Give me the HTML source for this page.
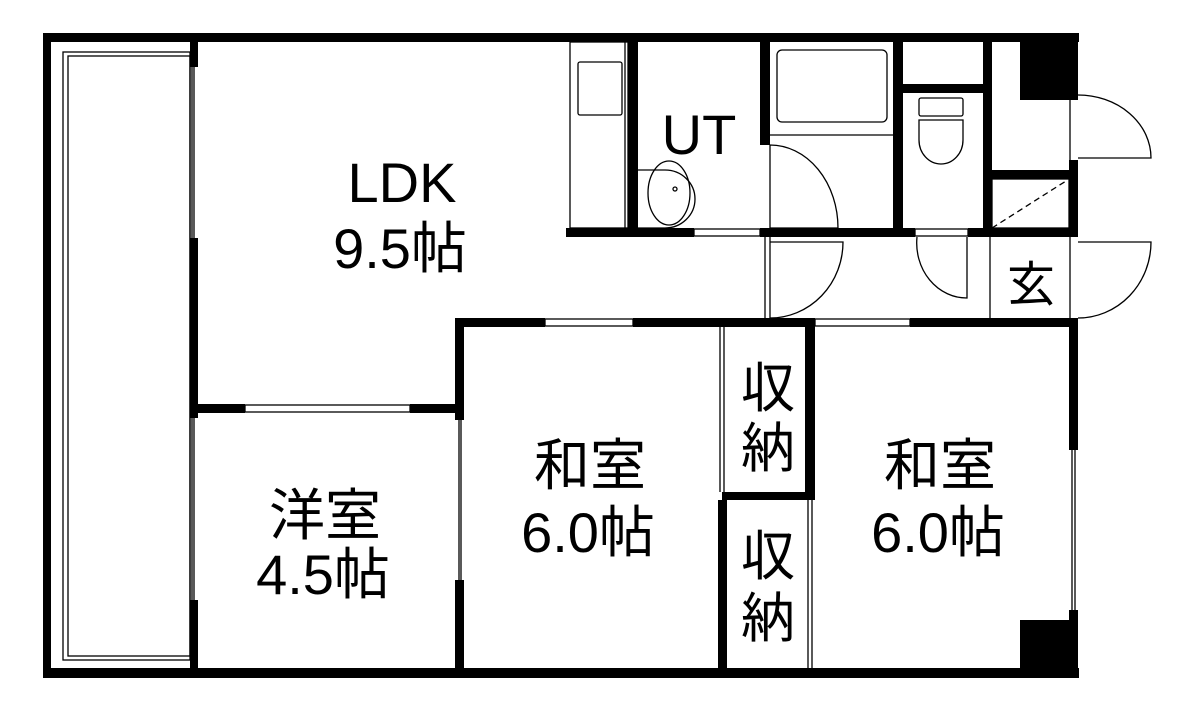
<!DOCTYPE html>
<html><head><meta charset="utf-8"><style>
html,body{margin:0;padding:0;background:#fff;width:1177px;height:711px;overflow:hidden}
text{font-family:"Liberation Sans","Noto Sans CJK JP",sans-serif;fill:#000}
</style></head><body>
<svg width="1177" height="711" viewBox="0 0 1177 711" xmlns="http://www.w3.org/2000/svg">
<g fill="#000">
<rect x="43" y="33" width="1036" height="9"/>
<rect x="43" y="668" width="1036" height="10"/>
<rect x="43" y="33" width="8" height="645"/>
<rect x="1069" y="33" width="9" height="57"/>
<rect x="1069" y="160" width="9" height="77"/>
<rect x="1069" y="318" width="9" height="132"/>
<rect x="1069" y="610" width="9" height="68"/>
<rect x="1020" y="42" width="58" height="58"/>
<rect x="1020" y="620" width="58" height="58"/>
<rect x="190" y="42" width="8" height="25"/>
<rect x="190" y="238" width="8" height="180"/>
<rect x="190" y="600" width="8" height="78"/>
<rect x="190" y="404" width="55" height="9"/>
<rect x="410" y="404" width="54" height="9"/>
<rect x="455" y="318" width="9" height="102"/>
<rect x="455" y="580" width="9" height="98"/>
<rect x="455" y="318" width="90" height="9"/>
<rect x="633" y="318" width="182" height="9"/>
<rect x="910" y="318" width="168" height="9"/>
<rect x="805" y="318" width="10" height="182"/>
<rect x="722" y="492" width="93" height="8"/>
<rect x="718" y="500" width="9" height="178"/>
<rect x="566" y="228" width="128" height="9"/>
<rect x="760" y="228" width="155" height="9"/>
<rect x="968" y="228" width="110" height="9"/>
<rect x="628" y="42" width="10" height="195"/>
<rect x="760" y="42" width="10" height="103"/>
<rect x="893" y="42" width="10" height="195"/>
<rect x="903" y="84" width="87" height="9"/>
<rect x="983" y="42" width="9" height="195"/>
<rect x="990" y="170" width="88" height="9"/>
</g>
<g fill="none" stroke="#000" stroke-width="1.3">
<rect x="63" y="52" width="127" height="608"/>
<rect x="68" y="56" width="122" height="600"/>
<line x1="194" y1="67" x2="194" y2="238"/><line x1="192" y1="67" x2="192" y2="238"/>
<line x1="194" y1="418" x2="194" y2="600"/><line x1="192" y1="418" x2="192" y2="600"/>
<rect x="245" y="405" width="165" height="7"/>
<line x1="459" y1="420" x2="459" y2="580"/><line x1="461" y1="420" x2="461" y2="580"/>
<rect x="545" y="319" width="88" height="7"/>
<rect x="815" y="319" width="95" height="7"/>
<line x1="720" y1="327" x2="720" y2="492"/><line x1="724" y1="327" x2="724" y2="492"/>
<line x1="808" y1="500" x2="808" y2="668"/><line x1="812" y1="500" x2="812" y2="668"/>
<line x1="1072" y1="450" x2="1072" y2="610"/><line x1="1075" y1="450" x2="1075" y2="610"/>
<rect x="570" y="42" width="58" height="186"/>
<rect x="578" y="62" width="44" height="53" rx="2"/>
<line x1="625" y1="42" x2="625" y2="228"/>
<rect x="694" y="229" width="66" height="7"/>
<path d="M638 170 H665 A30 29 0 0 1 665 228 H638"/>
<ellipse cx="669" cy="193" rx="21" ry="32"/>
<circle cx="675" cy="189" r="2"/>
<rect x="777" y="50" width="110" height="72" rx="5"/>
<line x1="770" y1="135" x2="893" y2="135"/>
<path d="M770 145 V228 H838 A68 83 0 0 0 770 145"/>
<line x1="770" y1="237" x2="770" y2="318"/><line x1="765" y1="237" x2="765" y2="318"/>
<path d="M770 242 H843 A73 76 0 0 1 770 318"/>
<rect x="915" y="229" width="53" height="7"/>
<path d="M917 237 A50 55 0 0 0 967 298 V237"/>
<rect x="919" y="98" width="44" height="18" rx="2"/>
<path d="M919 120 H963 V140 A22 24 0 0 1 919 140 Z"/>
<rect x="992" y="179" width="77" height="49"/>
<line x1="992" y1="228" x2="1066" y2="181" stroke-dasharray="6,4"/>
<line x1="990" y1="237" x2="990" y2="318"/>
<line x1="1070" y1="90" x2="1070" y2="160"/>
<line x1="1070" y1="237" x2="1070" y2="318"/>
<path d="M1078 95 A73 63 0 0 1 1151 158 H1078"/>
<path d="M1078 242 H1151 A73 76 0 0 1 1078 318"/>
</g>
<g text-anchor="middle" font-size="56">
<text x="402" y="202">LDK</text>
<text x="400" y="268">9.5帖</text>
<text x="699" y="154">UT</text>
<text x="590" y="485">和室</text>
<text x="588" y="552">6.0帖</text>
<text x="325" y="535">洋室</text>
<text x="323" y="594">4.5帖</text>
<text x="940" y="485">和室</text>
<text x="938" y="552">6.0帖</text>
<text x="768" y="407" font-size="54">収</text>
<text x="768" y="467" font-size="54">納</text>
<text x="768" y="575" font-size="54">収</text>
<text x="768" y="637" font-size="54">納</text>
<text x="1031" y="301" font-size="48">玄</text>
</g>
</svg>
</body></html>
